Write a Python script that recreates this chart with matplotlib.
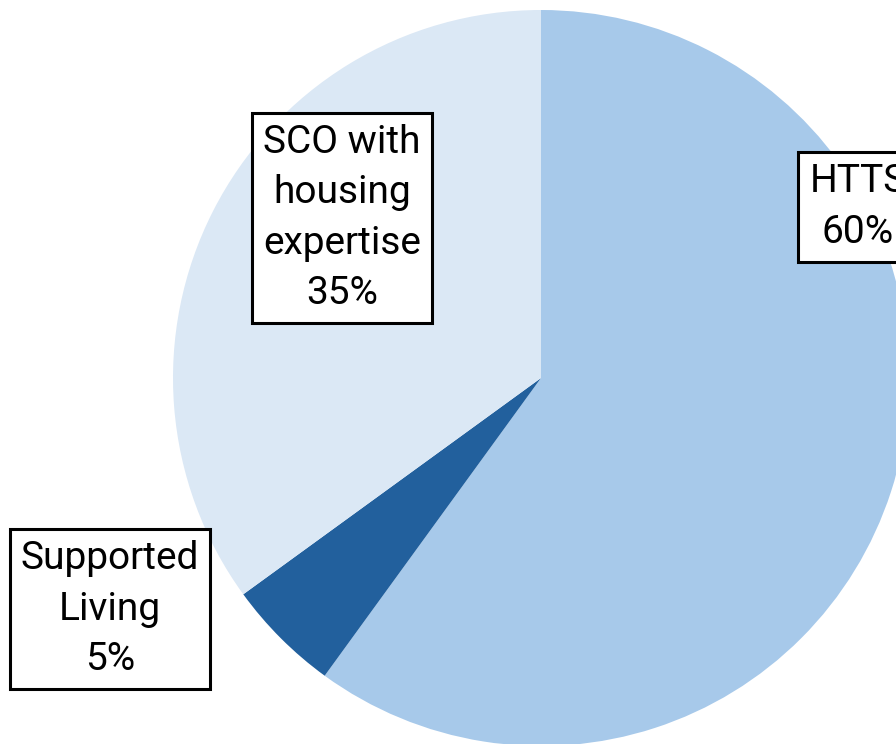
import matplotlib.pyplot as plt

labels = ["HTTS", "Supported\nLiving", "SCO with\nhousing\nexpertise"]
shares = [60, 5, 35]
colours = ["#A7C9EA", "#22609D", "#DBE8F5"]
# label centres in pixels (x, y from top)
label_pos = [(858, 207), (110, 609), (342, 218)]

W, H = 896, 744
fig = plt.figure(figsize=(W / 100, H / 100), dpi=100)
ax = fig.add_axes([0, 0, 1, 1])

cx, cy, r = 541, H - 378, 368
ax.pie(shares, colors=colours, startangle=90, counterclock=False,
       center=(cx, cy), radius=r, wedgeprops=dict(linewidth=0))

for lab, s, (x, y) in zip(labels, shares, label_pos):
    ax.text(x, H - y, lab + "\n" + str(s) + "%", ha="center", va="center",
            fontsize=28, family="Roboto", linespacing=1.47,
            bbox=dict(boxstyle="square,pad=0.28", fc="white", ec="black", lw=2.2))

ax.set_xlim(0, W)
ax.set_ylim(0, H)
ax.set_aspect("auto")
ax.axis("off")
fig.savefig("out.png", dpi=100)
